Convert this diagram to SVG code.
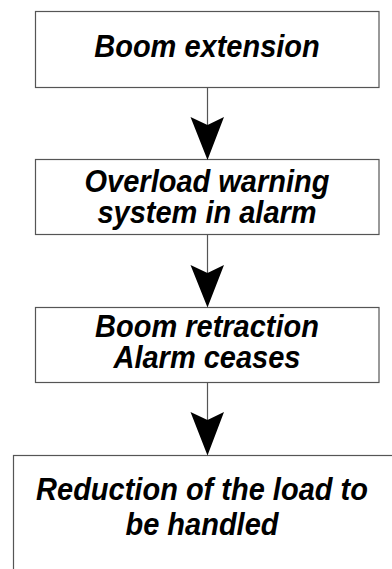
<svg xmlns="http://www.w3.org/2000/svg" width="392" height="569" viewBox="0 0 392 569">
<style>
.box{fill:#fff;stroke:#555;stroke-width:1.2}
.t{font-family:"Liberation Sans",Arial,sans-serif;font-weight:bold;font-style:italic;font-size:29px;fill:#000;text-anchor:middle}
.c{stroke:#555;stroke-width:1.2;fill:none}
.ah{fill:#000}
</style>
<rect width="392" height="569" fill="#fff"/>
<g id="n1"><rect class="box" x="35.5" y="11.5" width="343.5" height="76"/><text class="t" transform="translate(207,57) scale(1,1.09)">Boom extension</text></g>
<g id="n2"><rect class="box" x="35.5" y="159.5" width="343.5" height="75"/><text class="t" transform="translate(207,192) scale(1,1.09)">Overload warning</text><text class="t" transform="translate(207,223) scale(1,1.09)">system in alarm</text></g>
<g id="n3"><rect class="box" x="35.5" y="307.5" width="343.5" height="75"/><text class="t" transform="translate(207,337) scale(1,1.09)">Boom retraction</text><text class="t" transform="translate(207,368) scale(1,1.09)">Alarm ceases</text></g>
<g id="n4"><rect class="box" x="13.5" y="455.5" width="385" height="130"/><text class="t" transform="translate(202,500) scale(1,1.09)">Reduction of the load to</text><text class="t" transform="translate(202,535) scale(1,1.09)">be handled</text></g>
<g id="connectors">
<line class="c" x1="207.5" y1="87.5" x2="207.5" y2="125"/>
<path class="ah" d="M190.5,117 L207.5,125 L224,117 L207.5,160 Z"/>
<line class="c" x1="207.5" y1="234.5" x2="207.5" y2="273"/>
<path class="ah" d="M190.5,265 L207.5,273 L224,265 L207.5,307.5 Z"/>
<line class="c" x1="207.5" y1="382.5" x2="207.5" y2="420"/>
<path class="ah" d="M190.5,412 L207.5,420 L224,412 L207.5,455.5 Z"/>
</g>
</svg>
